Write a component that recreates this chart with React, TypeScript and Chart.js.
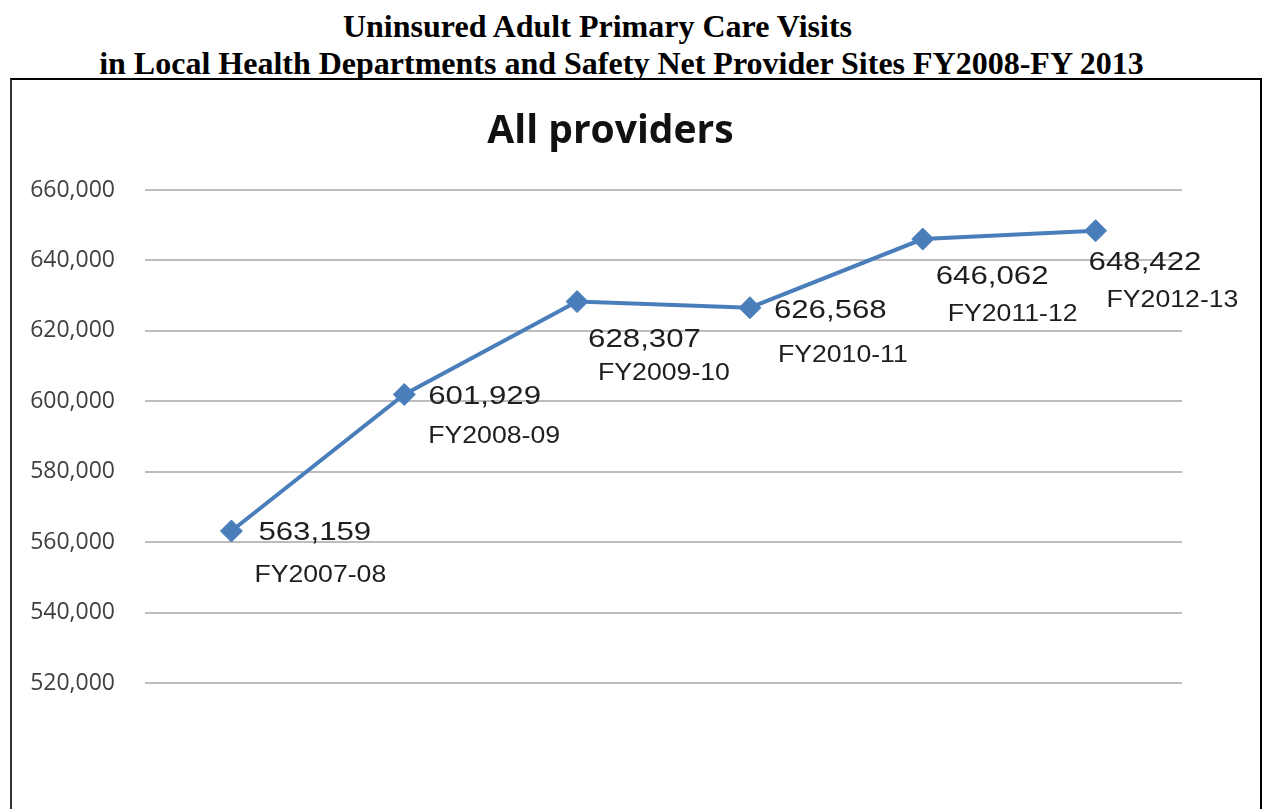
import React, { useEffect, useRef } from "react";
import { Chart, registerables } from "chart.js";

Chart.register(...registerables);

// ---- data ----
const categories = ["FY2007-08", "FY2008-09", "FY2009-10", "FY2010-11", "FY2011-12", "FY2012-13"];
const visits = [563159, 601929, 628307, 626568, 646062, 648422];
const yMin = 520000;
const yMax = 660000;
const yStep = 20000;

const headerLine1 = "Uninsured Adult Primary Care Visits";
const headerLine2 = "in Local Health Departments and Safety Net Provider Sites FY2008-FY 2013";
const chartTitle = "All providers";

// label placement offsets relative to each point (style, px)
const valueLabelOffsets = [[27, 9], [24, 10], [11, 45], [24, 10], [13, 45], [-7, 39]];
const categoryLabelOffsets = [[23, 51], [24, 49], [21, 78], [28, 54], [25, 82], [11, 76]];

const LINE_COLOR = "#4a7ebb";

const labelPlugin = {
  id: "pointLabels",
  afterDatasetsDraw(chart: any) {
    const ctx = chart.ctx;
    const meta = chart.getDatasetMeta(0);
    ctx.save();
    ctx.fillStyle = "#1e1e1e";
    ctx.textAlign = "left";
    ctx.textBaseline = "alphabetic";
    meta.data.forEach((pt: any, i: number) => {
      const v = visits[i].toLocaleString("en-US");
      const [vx, vy] = valueLabelOffsets[i];
      ctx.save();
      ctx.translate(pt.x + vx, pt.y + vy);
      ctx.scale(1.2, 1);
      ctx.font = "26px 'Liberation Sans', Arial, sans-serif";
      ctx.fillText(v, 0, 0);
      ctx.restore();
      const [cx, cy] = categoryLabelOffsets[i];
      ctx.save();
      ctx.translate(pt.x + cx, pt.y + cy);
      ctx.scale(1.11, 1);
      ctx.font = "24px 'Liberation Sans', Arial, sans-serif";
      ctx.fillText(categories[i], 0, 0);
      ctx.restore();
    });
    ctx.restore();
  },
};

const titlePlugin = {
  id: "innerTitle",
  afterDraw(chart: any) {
    const ctx = chart.ctx;
    ctx.save();
    ctx.fillStyle = "#111111";
    ctx.font = "bold 39px 'Open Sans', sans-serif";
    ctx.textAlign = "center";
    ctx.textBaseline = "alphabetic";
    ctx.fillText(chartTitle, 598.5, 63);
    ctx.restore();
  },
};

export default function App() {
  const canvasRef = useRef<HTMLCanvasElement | null>(null);

  useEffect(() => {
    if (!canvasRef.current) return;
    const chart = new Chart(canvasRef.current, {
      type: "line",
      data: {
        labels: categories,
        datasets: [
          {
            data: visits,
            borderColor: LINE_COLOR,
            backgroundColor: LINE_COLOR,
            borderWidth: 4,
            pointStyle: "rectRot",
            pointRadius: 11,
            pointBackgroundColor: LINE_COLOR,
            pointBorderColor: LINE_COLOR,
            pointBorderWidth: 1,
            tension: 0,
          },
        ],
      },
      options: {
        responsive: false,
        animation: false,
        layout: { padding: { top: 110, bottom: 126, left: 0, right: 78 } },
        plugins: {
          legend: { display: false },
          title: { display: false },
          tooltip: { enabled: false },
        },
        scales: {
          x: {
            display: false,
            offset: true,
          },
          y: {
            min: yMin,
            max: yMax,
            border: { display: false },
            grid: { color: "#bdbdbd", lineWidth: 2, drawTicks: false },
            ticks: {
              stepSize: yStep,
              padding: 30,
              color: "#404040",
              font: { family: "'Open Sans', sans-serif", size: 23 },
              callback: (v: any) => Number(v).toLocaleString("en-US"),
            },
            afterFit(scale: any) {
              scale.width = 133;
            },
          },
        },
      },
      plugins: [labelPlugin, titlePlugin],
    });
    return () => chart.destroy();
  }, []);

  const headerStyle: React.CSSProperties = {
    position: "absolute",
    left: 0,
    margin: 0,
    fontFamily: "'Liberation Serif', 'Times New Roman', serif",
    fontWeight: "bold",
    fontSize: 32,
    lineHeight: "32px",
    textAlign: "center",
    color: "#000",
    whiteSpace: "nowrap",
  };

  return (
    <div style={{ position: "absolute", left: 0, top: 0, width: 1262, height: 809, overflow: "hidden", background: "#fff" }}>
      <div style={{ ...headerStyle, top: 10, width: 1195 }}>{headerLine1}</div>
      <div style={{ ...headerStyle, top: 47, width: 1243 }}>{headerLine2}</div>
      <div
        style={{
          position: "absolute",
          left: 10,
          top: 78,
          width: 1248,
          height: 800,
          borderTop: "2px solid #000",
          borderLeft: "2px solid #333",
          borderRight: "2px solid #000",
          background: "#fff",
        }}
      >
        <canvas ref={canvasRef} width={1248} height={729} style={{ display: "block" }} />
      </div>
    </div>
  );
}
